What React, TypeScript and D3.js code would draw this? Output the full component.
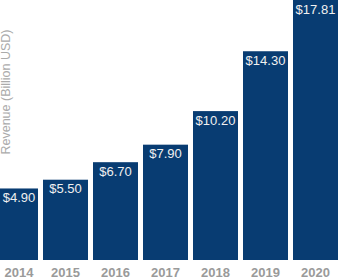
import React, { useEffect, useRef } from 'react';
import * as d3 from 'd3';

const years = ['2014', '2015', '2016', '2017', '2018', '2019', '2020'];
const revenue = [4.9, 5.5, 6.7, 7.9, 10.2, 14.3, 17.81];
const axisTitle = 'Revenue (Billion USD)';

export default function App() {
  const ref = useRef<SVGSVGElement>(null);

  useEffect(() => {
    const width = 340;
    const height = 280;
    const baseline = 260;

    const svg = d3.select(ref.current)
      .attr('width', width)
      .attr('height', height);
    svg.selectAll('*').remove();

    const x = d3.scaleBand()
      .domain(years)
      .range([-9.5, 340.5])
      .paddingInner(0.1)
      .paddingOuter(0.05);

    const y = d3.scaleLinear()
      .domain([0, d3.max(revenue)])
      .range([baseline, 0]);

    const data = years.map((yr, i) => ({ yr, v: revenue[i] }));
    // centre of the visible part of each bar (the first one is cut by the edge)
    const mid = (yr: string) => {
      const x0 = Math.max(0, x(yr));
      const x1 = Math.min(width, x(yr) + x.bandwidth());
      return (x0 + x1) / 2;
    };

    svg.append('g')
      .selectAll('rect')
      .data(data)
      .join('rect')
      .attr('x', d => x(d.yr))
      .attr('y', d => y(d.v))
      .attr('width', x.bandwidth())
      .attr('height', d => baseline - y(d.v))
      .attr('fill', '#083c72');

    svg.append('g')
      .selectAll('text')
      .data(data)
      .join('text')
      .attr('x', d => mid(d.yr))
      .attr('y', d => y(d.v) + 13.5)
      .attr('text-anchor', 'middle')
      .attr('fill', '#f0f0f0')
      .attr('font-family', 'Liberation Sans, Arial, sans-serif')
      .attr('font-size', 13)
      .text(d => `$${d.v.toFixed(2)}`);

    svg.append('g')
      .selectAll('text')
      .data(years)
      .join('text')
      .attr('x', d => mid(d))
      .attr('y', 277)
      .attr('text-anchor', 'middle')
      .attr('fill', '#9a9a9a')
      .attr('font-family', 'Liberation Sans, Arial, sans-serif')
      .attr('font-weight', 'bold')
      .attr('font-size', 13)
      .text(d => d);

    svg.append('text')
      .attr('transform', 'translate(10,92) rotate(-90)')
      .attr('text-anchor', 'middle')
      .attr('fill', '#ababab')
      .attr('font-family', 'Liberation Sans, Arial, sans-serif')
      .attr('font-size', 12.5)
      .text(axisTitle);
  }, []);

  return <svg ref={ref} style={{ position: 'absolute', left: 0, top: 0 }}></svg>;
}
